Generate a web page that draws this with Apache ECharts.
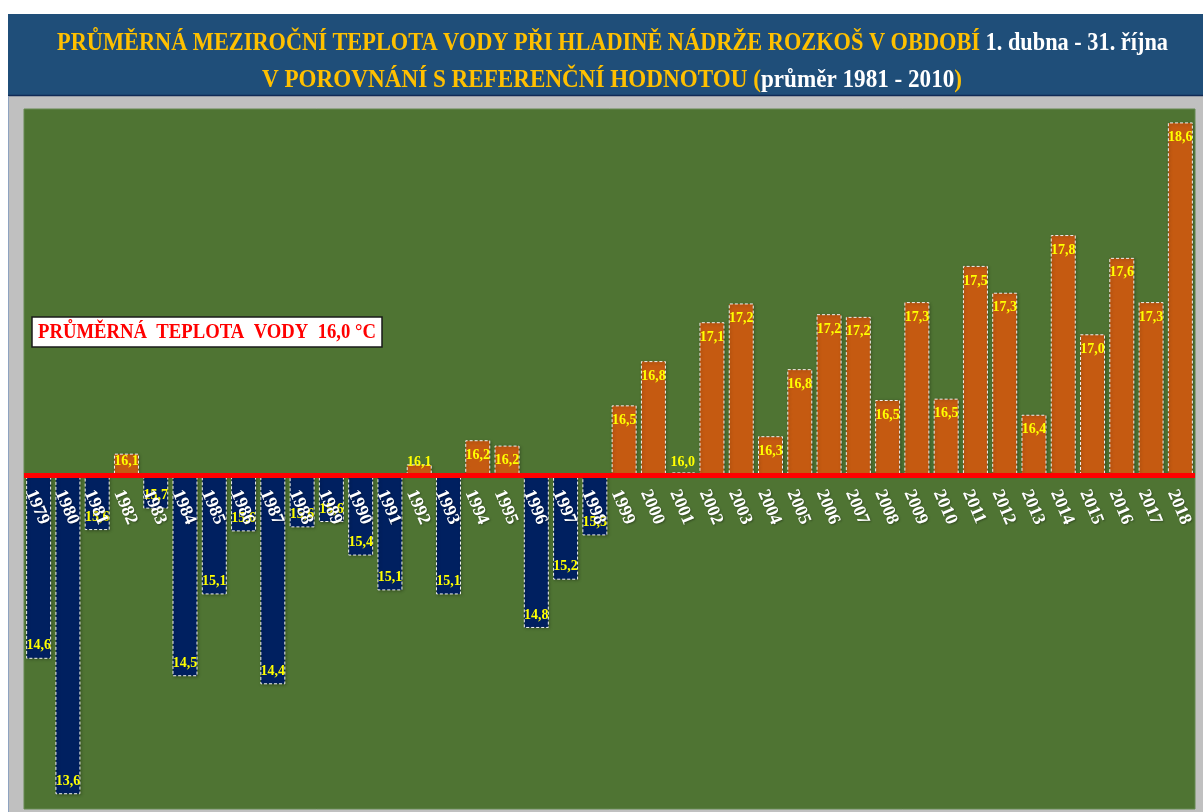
<!DOCTYPE html>
<html>
<head>
<meta charset="utf-8">
<script src="https://cdn.jsdelivr.net/npm/echarts@6/dist/echarts.min.js"></script>
<style>
html,body{margin:0;padding:0;background:#ffffff;}
#chart{width:1203px;height:812px;}
</style>
</head>
<body>
<div id="chart"></div>
<script>
// ---- data ----
const years = ['1979','1980','1981','1982','1983','1984','1985','1986','1987','1988',
  '1989','1990','1991','1992','1993','1994','1995','1996','1997','1998',
  '1999','2000','2001','2002','2003','2004','2005','2006','2007','2008',
  '2009','2010','2011','2012','2013','2014','2015','2016','2017','2018'];
const temps = [14.63, 13.62, 15.59, 16.16, 15.75, 14.50, 15.11, 15.58, 14.44, 15.61,
  15.65, 15.40, 15.14, 16.08, 15.11, 16.26, 16.22, 14.86, 15.22, 15.55,
  16.52, 16.85, 16.02, 17.14, 17.28, 16.29, 16.79, 17.20, 17.18, 16.56,
  17.29, 16.57, 17.56, 17.36, 16.45, 17.79, 17.05, 17.62, 17.29, 18.63];
const valueLabels = ['14,6','13,6','15,6','16,1','15,7','14,5','15,1','15,6','14,4','15,6',
  '15,6','15,4','15,1','16,1','15,1','16,2','16,2','14,8','15,2','15,5',
  '16,5','16,8','16,0','17,1','17,2','16,3','16,8','17,2','17,2','16,5',
  '17,3','16,5','17,5','17,3','16,4','17,8','17,0','17,6','17,3','18,6'];
const refTemp = 16.0;
const axisMin = 13.51;
const axisMax = 18.73;

const titleLine1a = 'PRŮMĚRNÁ MEZIROČNÍ TEPLOTA VODY PŘI HLADINĚ NÁDRŽE ROZKOŠ V OBDOBÍ ';
const titleLine1b = '1. dubna - 31. října';
const titleLine2a = 'V POROVNÁNÍ S REFERENČNÍ HODNOTOU ';
const titleLine2b = '(';
const titleLine2c = 'průměr 1981 - 2010';
const titleLine2d = ')';
const refText = 'PRŮMĚRNÁ  TEPLOTA  VODY  16,0 °C';

// ---- helpers ----
const SERIF = '"Liberation Serif", "DejaVu Serif", serif';
const cv = document.createElement('canvas').getContext('2d');
function measure(txt, size) { cv.font = 'bold ' + size + 'px ' + SERIF; return cv.measureText(txt).width; }

const TS = 26;
const t1w = measure(titleLine1a + titleLine1b, TS);
const t2w = measure(titleLine2a + titleLine2b + titleLine2c + titleLine2d, TS);
const rw = measure(refText, 20);

const NAVY = '#002060', ORANGE = '#C55A11';

const seriesData = temps.map((t, i) => {
  const d = +(t - refTemp).toFixed(3);
  const pos = d >= 0;
  let label;
  if (pos && d < 0.1) label = { position: 'top', distance: d < 0.05 ? 3 : -5 };
  else if (pos && d < 0.2) label = { position: 'insideTop', distance: 1 };
  else if (pos) label = { position: 'insideTop', distance: 8 };
  else label = { position: 'insideBottom', distance: 6 };
  return { value: d, itemStyle: { color: pos ? ORANGE : NAVY }, label: label };
});

const chart = echarts.init(document.getElementById('chart'), null, { renderer: 'canvas' });
chart.setOption({
  backgroundColor: '#ffffff',
  animation: false,
  grid: { left: 24, right: 8, top: 109, bottom: 3, show: true, backgroundColor: '#4F7433',
          borderColor: '#668a52', borderWidth: 1, containLabel: false, outerBoundsMode: 'none' },
  xAxis: {
    type: 'category', data: years, z: 10, position: 'bottom', offset: 0,
    axisLine: { show: false, onZero: false },
    axisTick: { show: false },
    axisLabel: { interval: 0, rotate: -67, margin: 12, color: '#ffffff', verticalAlign: 'top', align: 'left',
      fontFamily: SERIF, fontWeight: 'bold', fontSize: 18,
      textShadowColor: 'rgba(0,0,0,0.35)', textShadowBlur: 2, textShadowOffsetX: 1, textShadowOffsetY: 1 }
  },
  yAxis: { type: 'value', show: true, min: axisMin - refTemp, max: axisMax - refTemp,
    axisLine: { show: false }, axisTick: { show: false }, axisLabel: { show: false }, splitLine: { show: false } },
  series: [{
    type: 'bar', data: seriesData, barCategoryGap: '14.6%',
    itemStyle: { borderColor: '#f2f2f2', borderWidth: 1, borderType: [3, 2],
      shadowColor: 'rgba(0,0,0,0.35)', shadowBlur: 3, shadowOffsetX: 1, shadowOffsetY: 1 },
    label: { show: true, color: '#FFFF00', fontFamily: SERIF, fontWeight: 'bold', fontSize: 14,
      formatter: p => valueLabels[p.dataIndex] },
    markLine: { silent: true, symbol: ['none', 'none'], label: { show: false },
      lineStyle: { color: '#FF0000', width: 5, type: 'solid' },
      data: [{ yAxis: 0 }] }
  }],
  graphic: [
    { type: 'rect', z: -20, shape: { x: 8, y: 14, width: 1195, height: 82 }, style: { fill: '#1F4E79' } },
    { type: 'line', z: -19, shape: { x1: 8, y1: 95.5, x2: 1203, y2: 95.5 }, style: { stroke: '#102a55', lineWidth: 1.5 } },
    { type: 'rect', z: -20, shape: { x: 8, y: 96, width: 1195, height: 716 }, style: { fill: '#C0C0C0' } },
    { type: 'line', z: -19, shape: { x1: 8.5, y1: 96, x2: 8.5, y2: 812 }, style: { stroke: '#8ea3c0', lineWidth: 1 } },
    { type: 'text', z: 5, x: 612.5, y: 43, scaleX: 1111 / t1w,
      style: { text: '{o|' + titleLine1a + '}{w|' + titleLine1b + '}', align: 'center', verticalAlign: 'middle',
        rich: { o: { fill: '#FFC000', fontFamily: SERIF, fontWeight: 'bold', fontSize: TS },
                w: { fill: '#ffffff', fontFamily: SERIF, fontWeight: 'bold', fontSize: TS } } } },
    { type: 'text', z: 5, x: 612, y: 80, scaleX: 700 / t2w,
      style: { text: '{o|' + titleLine2a + titleLine2b + '}{w|' + titleLine2c + '}{o|' + titleLine2d + '}', align: 'center', verticalAlign: 'middle',
        rich: { o: { fill: '#FFC000', fontFamily: SERIF, fontWeight: 'bold', fontSize: TS },
                w: { fill: '#ffffff', fontFamily: SERIF, fontWeight: 'bold', fontSize: TS } } } },
    { type: 'rect', z: 20, shape: { x: 32, y: 317, width: 350, height: 30 },
      style: { fill: '#ffffff', stroke: '#1a1a1a', lineWidth: 1.5 } },
    { type: 'text', z: 21, x: 207, y: 332.5, scaleX: 338 / rw,
      style: { text: refText, align: 'center', verticalAlign: 'middle', fill: '#FF0000',
        font: 'bold 20px ' + SERIF } }
  ]
});

// Place the category axis at the reference (16,0 °C) level using the library's own scale
const zeroY = chart.convertToPixel({ yAxisIndex: 0 }, 0);
const bottomY = chart.convertToPixel({ yAxisIndex: 0 }, axisMin - refTemp);
chart.setOption({ xAxis: { offset: zeroY - bottomY } });
</script>
</body>
</html>
